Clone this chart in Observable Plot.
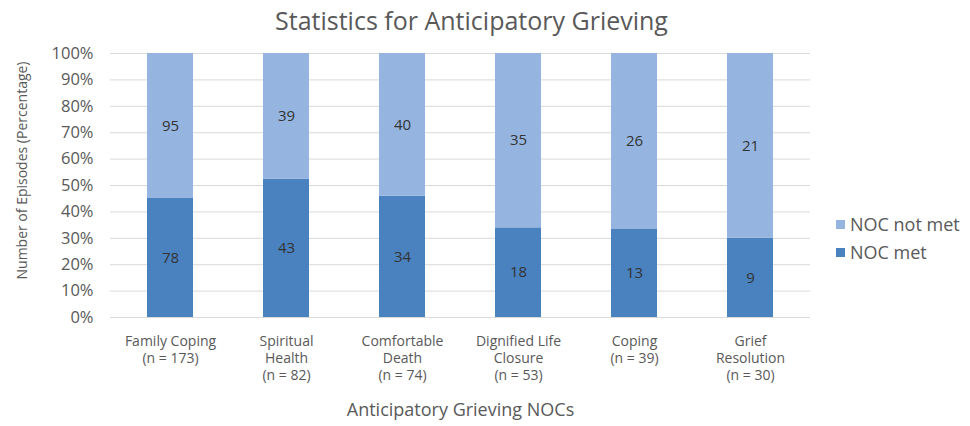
<!DOCTYPE html>
<html>
<head>
<meta charset="utf-8">
<script src="https://cdn.jsdelivr.net/npm/d3@7"></script>
<script src="https://cdn.jsdelivr.net/npm/@observablehq/plot@0.6"></script>
<style>
  html, body { margin: 0; padding: 0; background: #fff; }
  #wrap { position: relative; width: 970px; height: 426px; font-family: "Open Sans", sans-serif; }
  #legend { position: absolute; left: 836px; top: 210px; font-size: 18px; color: #595959; }
  #legend .item { display: flex; align-items: center; height: 28px; }
  #legend .sw { width: 9px; height: 9px; margin-right: 5px; }
</style>
</head>
<body>
<div id="wrap"></div>
<script>
const categories = ["Family Coping", "Spiritual Health", "Comfortable Death", "Dignified Life Closure", "Coping", "Grief Resolution"];
const tickLabels = ["Family Coping\n(n = 173)", "Spiritual\nHealth\n(n = 82)", "Comfortable\nDeath\n(n = 74)", "Dignified Life\nClosure\n(n = 53)", "Coping\n(n = 39)", "Grief\nResolution\n(n = 30)"];
const nocMet = [78, 43, 34, 18, 13, 9];
const nocNotMet = [95, 39, 40, 35, 26, 21];
const seriesNames = ["NOC met", "NOC not met"];
const seriesColors = ["#4a82c0", "#95b5e0"];
const yTicks = [0, 10, 20, 30, 40, 50, 60, 70, 80, 90, 100];
const titleText = "Statistics for Anticipatory Grieving";
const yLabel = "Number of Episodes (Percentage)";
const xLabel = "Anticipatory Grieving NOCs";

const rows = [];
categories.forEach((c, i) => {
  const total = nocMet[i] + nocNotMet[i];
  rows.push({cat: c, series: seriesNames[0], count: nocMet[i], pct: nocMet[i] / total * 100});
  rows.push({cat: c, series: seriesNames[1], count: nocNotMet[i], pct: nocNotMet[i] / total * 100});
});
const labelOf = new Map(categories.map((c, i) => [c, tickLabels[i]]));

const chart = Plot.plot({
  width: 970,
  height: 426,
  marginTop: 53,
  marginBottom: 109,
  marginLeft: 110,
  marginRight: 160,
  style: {fontFamily: "'Open Sans', sans-serif", color: "#595959", background: "#fff"},
  x: {domain: categories, paddingInner: 0.6, paddingOuter: 0.3},
  y: {domain: [0, 100]},
  color: {domain: seriesNames, range: seriesColors},
  marks: [
    Plot.gridY(yTicks, {stroke: "#d9d9d9", strokeOpacity: 1}),
    Plot.barY(rows, Plot.stackY({x: "cat", y: "pct", fill: "series", z: "series"})),
    Plot.text(rows, Plot.stackY({x: "cat", y: "pct", text: "count", z: "series", fill: "#333", fontSize: 15})),
    Plot.axisY(yTicks, {tickSize: 0, tickPadding: 17, tickFormat: d => d + "%", fontSize: 16.5, label: null}),
    Plot.axisX({tickSize: 0, tickPadding: 16, tickFormat: d => labelOf.get(d), fontSize: 14, lineHeight: 1.22, label: null}),
    Plot.text([yLabel], {frameAnchor: "left", textAnchor: "middle", lineAnchor: "middle", rotate: -90, dx: -88, dy: -15, fontSize: 14, fill: "#595959"}),
    Plot.text([xLabel], {frameAnchor: "bottom", lineAnchor: "middle", dy: 93, fontSize: 18, fill: "#595959"}),
    Plot.text([titleText], {frameAnchor: "top", lineAnchor: "middle", dy: -32, dx: 11, fontSize: 25, fill: "#595959"})
  ]
});
const wrap = document.getElementById("wrap");
wrap.appendChild(chart);

const legend = document.createElement("div");
legend.id = "legend";
[1, 0].forEach(i => {
  const item = document.createElement("div");
  item.className = "item";
  const sw = document.createElement("span");
  sw.className = "sw";
  sw.style.background = seriesColors[i];
  const lb = document.createElement("span");
  lb.textContent = seriesNames[i];
  item.appendChild(sw);
  item.appendChild(lb);
  legend.appendChild(item);
});
wrap.appendChild(legend);
</script>
</body>
</html>
